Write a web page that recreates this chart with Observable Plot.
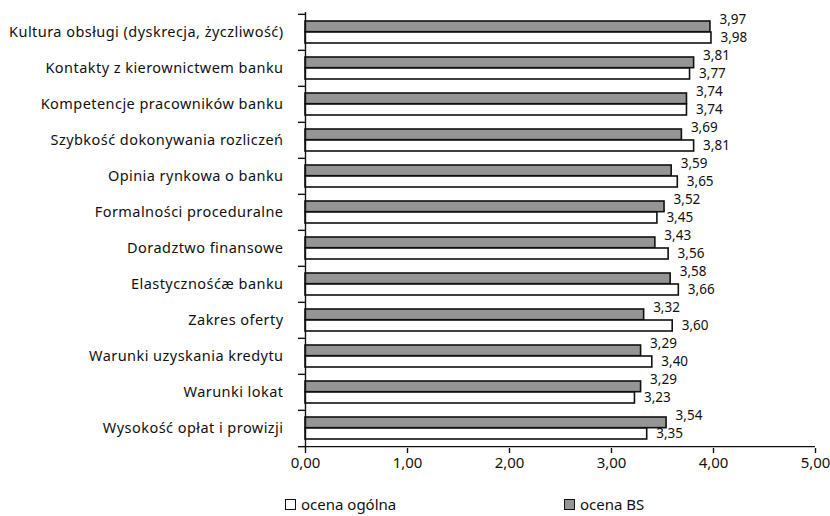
<!DOCTYPE html>
<html><head><meta charset="utf-8">
<script src="https://cdn.jsdelivr.net/npm/d3@7"></script>
<script src="https://cdn.jsdelivr.net/npm/@observablehq/plot@0.6"></script>
<style>
body{margin:0;background:#fff;font-family:"Noto Sans",sans-serif;color:#111;}
#chart{width:830px;height:480px;}
#chart g[aria-label="y-axis tick label"] text{letter-spacing:0.45px;}
#legend{position:relative;width:830px;height:36px;font-size:15px;}
.item{position:absolute;top:14px;display:flex;align-items:center;}
.sw{display:inline-block;width:11px;height:11px;border:1.3px solid #111;box-sizing:border-box;margin-right:5px;}
</style></head><body>
<div id="chart"></div>
<div id="legend"></div>
<script>
const categories = [
  "Kultura obsługi (dyskrecja, życzliwość)",
  "Kontakty z kierownictwem banku",
  "Kompetencje pracowników banku",
  "Szybkość dokonywania rozliczeń",
  "Opinia rynkowa o banku",
  "Formalności proceduralne",
  "Doradztwo finansowe",
  "Elastycznośćæ banku",
  "Zakres oferty",
  "Warunki uzyskania kredytu",
  "Warunki lokat",
  "Wysokość opłat i prowizji"
];
const ocenaBS =     [3.97, 3.81, 3.74, 3.69, 3.59, 3.52, 3.43, 3.58, 3.32, 3.29, 3.29, 3.54];
const ocenaOgolna = [3.98, 3.77, 3.74, 3.81, 3.65, 3.45, 3.56, 3.66, 3.60, 3.40, 3.23, 3.35];
const xTicks = [0, 1, 2, 3, 4, 5];
const seriesNames = ["ocena ogólna", "ocena BS"];

const fmt = d => d.toFixed(2).replace(".", ",");
const bsRows = categories.map((c, i) => ({cat: c, v: ocenaBS[i]}));
const ogRows = categories.map((c, i) => ({cat: c, v: ocenaOgolna[i]}));

const H = 480, mt = 12, mb = 32;
const band = (H - mt - mb) / categories.length;
const barH = 11, off = 7;
const gray = "#959595";

const chart = Plot.plot({
  width: 830, height: H,
  marginLeft: 305, marginRight: 15, marginTop: mt, marginBottom: mb,
  style: {fontFamily: "Noto Sans", fontSize: "14px", color: "#111", background: "#fff"},
  x: {domain: [0, 5]},
  y: {domain: categories, padding: 0},
  marks: [
    Plot.barX(bsRows, {x: "v", y: "cat", insetTop: off, insetBottom: band - off - barH, fill: gray, stroke: "#111", strokeWidth: 1.6}),
    Plot.barX(ogRows, {x: "v", y: "cat", insetTop: off + barH, insetBottom: off, fill: "#fff", stroke: "#111", strokeWidth: 1.6}),
    Plot.text(bsRows, {x: "v", y: "cat", text: d => fmt(d.v), dx: 9, dy: -12.5, textAnchor: "start", fontSize: 13.5, fill: "#111"}),
    Plot.text(ogRows, {x: "v", y: "cat", text: d => fmt(d.v), dx: 9, dy: 5, textAnchor: "start", fontSize: 13.5, fill: "#111"}),
    Plot.ruleX([0], {stroke: "#111", strokeWidth: 1.4}),
    Plot.ruleY([categories[categories.length - 1]], {dy: band / 2, stroke: "#111", strokeWidth: 1.4}),
    Plot.axisY({tickSize: 0, tickPadding: 22, label: null, fontSize: 14.5}),
    Plot.axisY({tickSize: 7, text: null, label: null, dy: -band / 2, strokeWidth: 1.4}),
    Plot.axisY({ticks: [categories[categories.length - 1]], tickSize: 7, text: null, label: null, dy: band / 2, strokeWidth: 1.4}),
    Plot.axisX({ticks: xTicks, tickFormat: fmt, tickSize: 5, tickPadding: 4, label: null, fontSize: 15, strokeWidth: 1.4})
  ]
});
document.getElementById("chart").append(chart);

const legend = document.getElementById("legend");
const fills = ["#fff", gray];
const lefts = [285, 564];
seriesNames.forEach((name, i) => {
  const it = document.createElement("div");
  it.className = "item";
  it.style.left = lefts[i] + "px";
  const sw = document.createElement("span");
  sw.className = "sw";
  sw.style.background = fills[i];
  it.append(sw, document.createTextNode(name));
  legend.append(it);
});
</script>
</body></html>
